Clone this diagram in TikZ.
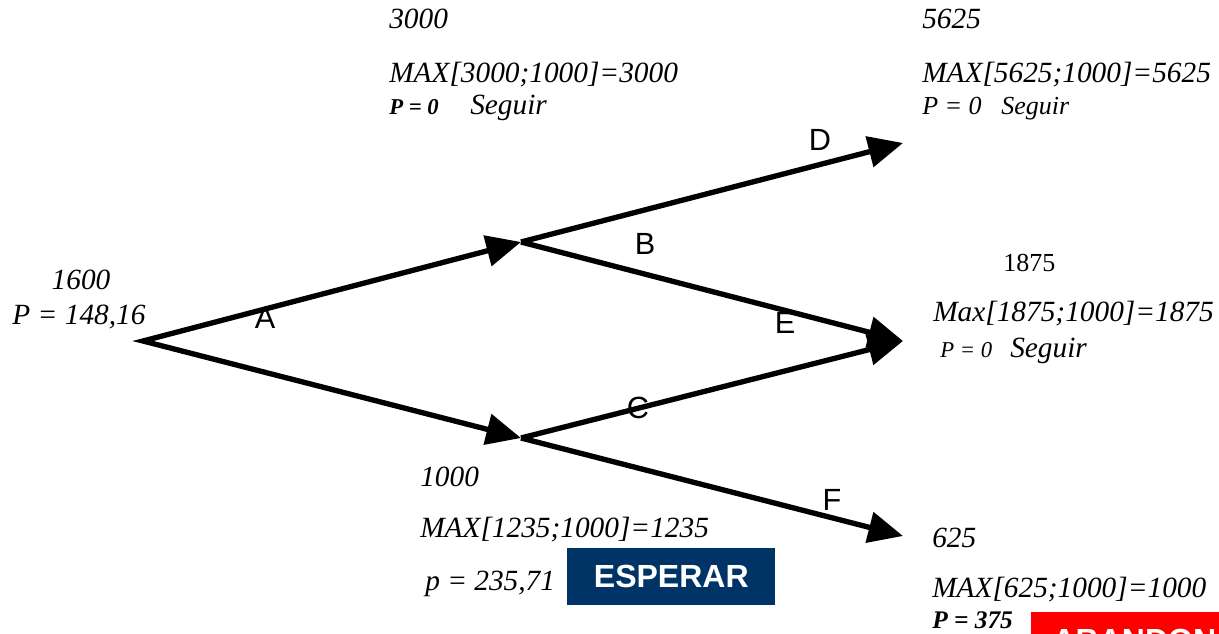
\documentclass[tikz,border=0pt]{standalone}
\usepackage{fontspec}
\setmainfont{Liberation Serif}
\newfontfamily\arialfont{Liberation Sans}
\usetikzlibrary{arrows.meta}
\definecolor{navy}{RGB}{0,51,102}
\tikzset{
	branch/.style={line width=4pt},
	val/.style={anchor=base west, inner sep=0pt, font=\fontsize{22}{26}\selectfont\itshape},
	lbl/.style={font=\arialfont\fontsize{23}{27}\selectfont},
	decision/.style={anchor=north west, inner ysep=0pt, inner xsep=16pt, minimum width=156pt, minimum height=42.75pt, text=white, font=\arialfont\bfseries\fontsize{24}{28}\selectfont},
}
\begin{document}
\begin{tikzpicture}[x=0.75pt, y=-0.75pt, >={Triangle[length=26pt,width=23pt]}]
	\useasboundingbox (0,0) rectangle (1219,634);
	\clip (0,0) rectangle (1219,634);
	% arbol
	\coordinate (root) at (143,341);
	\coordinate (up) at (521,242);
	\coordinate (down) at (521,438);
	\coordinate (upup) at (903,143);
	\coordinate (mid) at (903,341);
	\coordinate (dndn) at (903,536);
	\draw[branch, <->] (up) -- (root) -- (down);
	\draw[branch, ->] (up) -- (upup);
	\draw[branch, ->] (up) -- (mid);
	\draw[branch, ->] (down) -- (mid);
	\draw[branch, ->] (down) -- (dndn);
	\node[lbl] (labA) at (265,318) {A};
	\node[lbl] (labB) at (645,244) {B};
	\node[lbl] (labC) at (638,408) {C};
	\node[lbl] (labD) at (820,140) {D};
	\node[lbl] (labE) at (785,323) {E};
	\node[lbl] (labF) at (832,500) {F};
	% valores
	\node[val, anchor=base] (v1600) at (81,290) {1600};
	\node[val, anchor=base] (p1600) at (79,325) {P = 148,16};
	\node[val] (v3000) at (389,29) {3000};
	\node[val] (max3000) at (389,83) {MAX[3000;1000]=3000};
	\node[val, font=\fontsize{17}{20}\selectfont\bfseries\itshape] (p3000) at (389,115) {P = 0};
	\node[val] (s3000) at (470,115) {Seguir};
	\node[val] (v5625) at (922,29) {5625};
	\node[val] (max5625) at (922,83) {MAX[5625;1000]=5625};
	\node[val, font=\fontsize{19.5}{22}\selectfont\itshape] (p5625) at (922,115) {P = 0};
	\node[val, font=\fontsize{19.5}{22}\selectfont\itshape] (s5625) at (1001,115) {Seguir};
	\node[val, font=\fontsize{19.5}{22}\selectfont] (v1875) at (1003,272) {1875};
	\node[val] (max1875) at (933,321) {Max[1875;1000]=1875};
	\node[val, font=\fontsize{17}{20}\selectfont\itshape] (p1875) at (940,357) {P = 0};
	\node[val] (s1875) at (1010,357) {Seguir};
	\node[val] (v1000) at (420,486) {1000};
	\node[val] (max1235) at (420,537) {MAX[1235;1000]=1235};
	\node[val] (p1235) at (425,590) {p = 235,71};
	\node[decision, fill=navy] (esperar) at (567,548) {ESPERAR};
	\node[val] (v625) at (932,547) {625};
	\node[val] (max625) at (932,597) {MAX[625;1000]=1000};
	\node[val, font=\fontsize{19}{22}\selectfont\bfseries\itshape] (p625) at (932,628) {P = 375};
	\node[decision, fill=red] (abandonar) at (1031,612) {ABANDONAR};
\end{tikzpicture}
\end{document}
